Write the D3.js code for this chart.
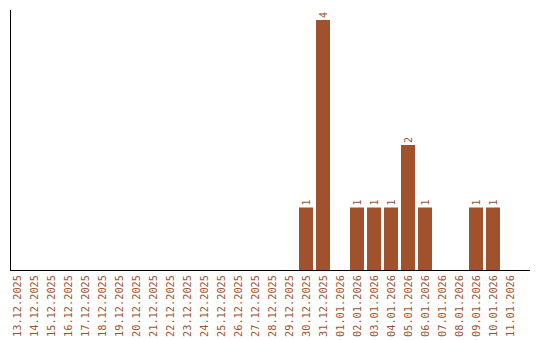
<!DOCTYPE html>
<html>
<head>
<meta charset="utf-8">
<script src="https://cdn.jsdelivr.net/npm/d3@7"></script>
<style>
  body { margin: 0; background: #fff; }
  text { font-family: "DejaVu Sans Mono", monospace; }
</style>
</head>
<body>
<div id="chart"></div>
<script>
var dates = [
    "13.12.2025", "14.12.2025", "15.12.2025", "16.12.2025", "17.12.2025",
    "18.12.2025", "19.12.2025", "20.12.2025", "21.12.2025", "22.12.2025",
    "23.12.2025", "24.12.2025", "25.12.2025", "26.12.2025", "27.12.2025",
    "28.12.2025", "29.12.2025", "30.12.2025", "31.12.2025", "01.01.2026",
    "02.01.2026", "03.01.2026", "04.01.2026", "05.01.2026", "06.01.2026",
    "07.01.2026", "08.01.2026", "09.01.2026", "10.01.2026", "11.01.2026"
];
var counts = [
    0, 0, 0, 0, 0, 0, 0, 0, 0, 0,
    0, 0, 0, 0, 0, 0, 0, 1, 4, 0,
    1, 1, 1, 2, 1, 0, 0, 1, 1, 0
];

var w = 540, h = 340;
var padLeft = 10, padTop = 20, axisY = 270;
var color = "#a0522d";

var svg = d3.select("#chart").append("svg")
    .attr("width", w)
    .attr("height", h);

// step of 17px, bars 14px wide
var x = d3.scaleBand()
    .domain(dates)
    .range([padLeft, padLeft + 17 * dates.length - 3])
    .paddingInner(3 / 17)
    .paddingOuter(0);

var y = d3.scaleLinear()
    .domain([0, d3.max(counts)])
    .range([axisY, padTop]);

var data = dates.map((d, i) => ({ date: d, value: counts[i] }));

// bars
svg.selectAll("rect.bar")
    .data(data.filter(d => d.value > 0))
    .enter()
    .append("rect")
    .attr("class", "bar")
    .attr("x", d => x(d.date))
    .attr("y", d => y(d.value))
    .attr("width", x.bandwidth())
    .attr("height", d => y(0) - y(d.value))
    .attr("fill", color);

// value labels
svg.selectAll("text.val")
    .data(data.filter(d => d.value > 0))
    .enter()
    .append("text")
    .attr("class", "val")
    .attr("transform", d => "translate(" + (x(d.date) + x.bandwidth() / 2) + "," + (y(d.value) - 2) + ") rotate(-90)")
    .attr("dy", "0.35em")
    .attr("font-size", "10px")
    .attr("fill", color)
    .text(d => d.value);

// axes
var xAxis = svg.append("g")
    .attr("transform", "translate(0," + axisY + ")")
    .call(d3.axisBottom(x).tickSize(0).tickPadding(0));
xAxis.select(".domain").remove();
xAxis.selectAll("text")
    .attr("transform", "rotate(-90)")
    .attr("x", -5)
    .attr("y", 0)
    .attr("dy", "0.35em")
    .style("text-anchor", "end")
    .attr("font-size", "10.3px")
    .attr("font-family", "DejaVu Sans Mono, monospace")
    .attr("fill", color);

svg.append("line")
    .attr("x1", padLeft).attr("x2", 530)
    .attr("y1", axisY + 0.5).attr("y2", axisY + 0.5)
    .attr("stroke", "#000");
svg.append("line")
    .attr("x1", padLeft + 0.5).attr("x2", padLeft + 0.5)
    .attr("y1", 10).attr("y2", axisY)
    .attr("stroke", "#000");
</script>
</body>
</html>
